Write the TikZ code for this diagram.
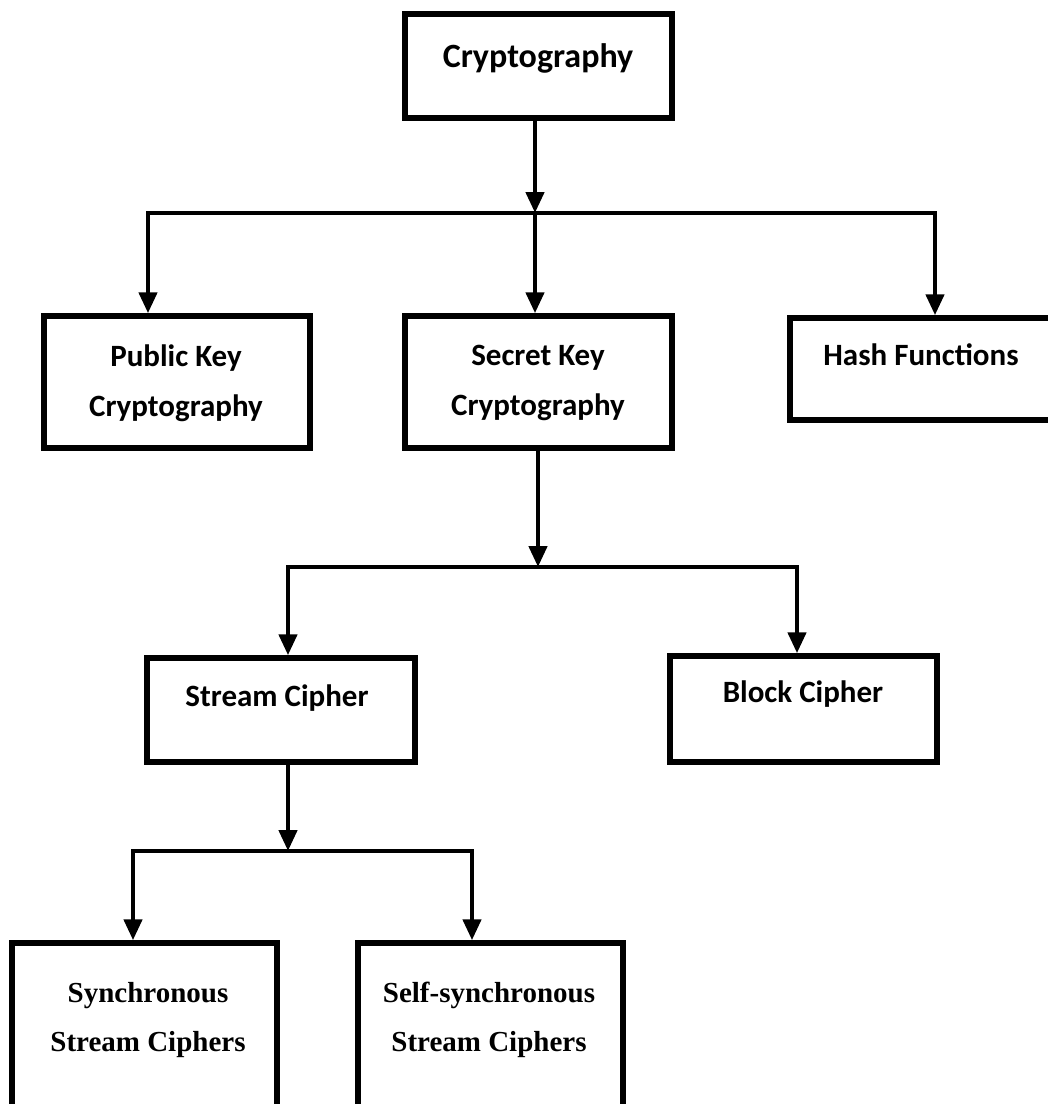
\documentclass[tikz,border=0pt]{standalone}
\usepackage{fontspec}
\setmainfont{Carlito}
\newfontfamily\timesfont{Liberation Serif}
\usetikzlibrary{arrows.meta}
\begin{document}
\begin{tikzpicture}[x=1pt,y=-1pt,
  box/.style={draw, line width=5.5pt, inner sep=0pt},
  lab/.style={font=\fontsize{31}{50}\selectfont\bfseries, align=center, inner sep=0pt},
  serlab/.style={font=\timesfont\fontsize{29}{49}\selectfont\bfseries, align=center, inner sep=0pt},
  conn/.style={line width=4.5pt, -{Triangle[width=18pt,length=21pt]}}]
\clip (0,0) rectangle (1048,1104);
\fill[white] (0,0) rectangle (1048,1104);

% boxes
\node[box, minimum width=267pt, minimum height=104pt] (crypto) at (538.5,66) {};
\node[box, minimum width=266pt, minimum height=132pt] (pub) at (177,382) {};
\node[box, minimum width=267pt, minimum height=132pt] (sec) at (538.5,382) {};
\node[box, minimum width=272pt, minimum height=102pt] (hash) at (926,369) {};
\node[box, minimum width=268pt, minimum height=104pt] (stream) at (281,710) {};
\node[box, minimum width=267pt, minimum height=106pt] (block) at (803.5,709) {};
\node[box, minimum width=265pt, minimum height=197pt] (sync) at (144.5,1041.5) {};
\node[box, minimum width=265pt, minimum height=197pt] (self) at (490.5,1041.5) {};

% texts
\node[lab, font=\fontsize{34}{40}\selectfont\bfseries] (cryptoT) at (538,58) {Cryptography};
\node[lab] (pubT) at (176,383) {Public Key\\Cryptography};
\node[lab] (secT) at (538,383) {Secret Key\\Cryptography};
\node[lab] (hashT) at (921,355) {Hash Functions};
\node[lab] (streamT) at (277,698) {Stream Cipher};
\node[lab] (blockT) at (803,694) {Block Cipher};
\node[serlab] (syncT) at (148,1020) {Synchronous\\Stream Ciphers};
\node[serlab] (selfT) at (489,1020) {Self-synchronous\\Stream Ciphers};

% junctions
\coordinate (j1) at (535,213);
\coordinate (j1a) at (148,213);
\coordinate (j1c) at (935,213);
\coordinate (j2) at (538,567);
\coordinate (j2a) at (288,567);
\coordinate (j2b) at (797,567);
\coordinate (j3) at (288,851);
\coordinate (j3a) at (133,851);
\coordinate (j3b) at (472,851);

% connectors
\draw[conn] (j1 |- crypto.south) -- (j1);
\draw[conn] (j1) -| (j1a |- pub.north);
\draw[conn] (j1) -| (j1c |- hash.north);
\draw[conn] (j1) -- (j1 |- sec.north);

\draw[conn] (j2 |- sec.south) -- (j2);
\draw[conn] (j2) -| (j2a |- stream.north);
\draw[conn] (j2) -| (j2b |- block.north);

\draw[conn] (j3 |- stream.south) -- (j3);
\draw[conn] (j3) -| (j3a |- sync.north);
\draw[conn] (j3) -| (j3b |- self.north);
\end{tikzpicture}
\end{document}
